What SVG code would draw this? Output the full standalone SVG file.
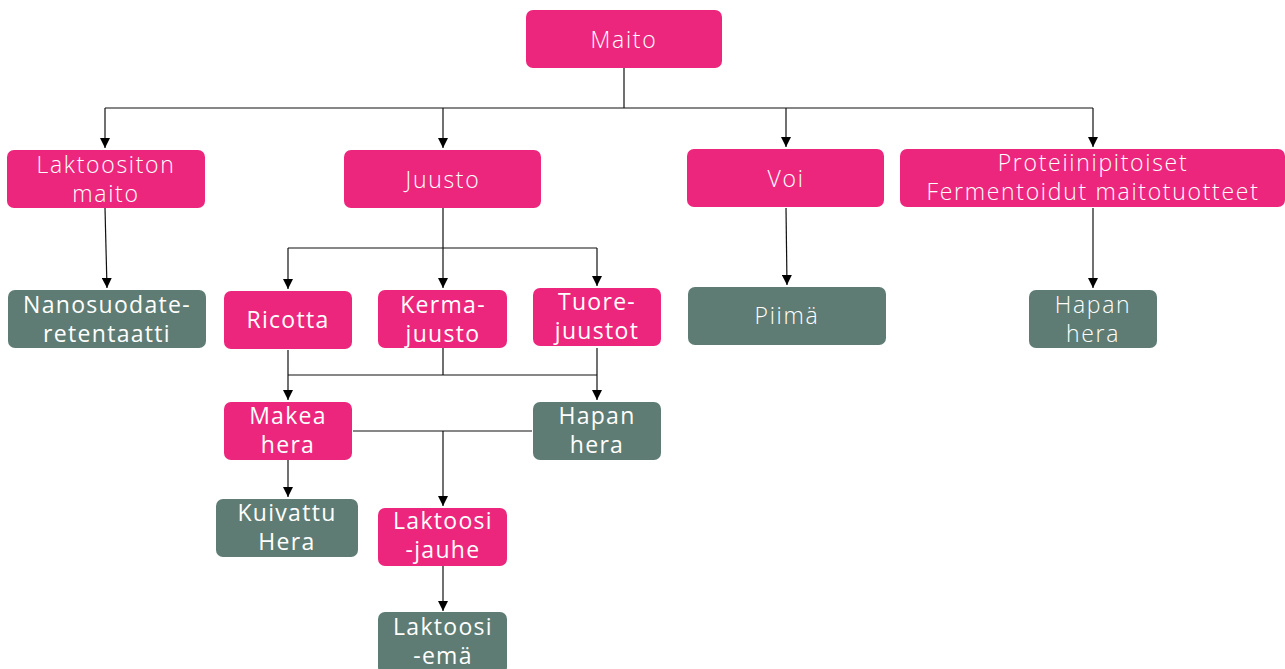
<svg xmlns="http://www.w3.org/2000/svg" width="1285" height="669" viewBox="0 0 1285 669">
<style>
.p{fill:#ED267D}
.g{fill:#5E7C73}
.t{fill:#fff;font-family:"Open Sans","Noto Sans",sans-serif;font-weight:300;font-size:23px;letter-spacing:1.7px;text-anchor:middle;dominant-baseline:central}
.m{fill:#fff;font-family:"Open Sans","Noto Sans",sans-serif;font-weight:400;font-size:23px;letter-spacing:1.3px;text-anchor:middle;dominant-baseline:central}
.c{fill:none;stroke:#111;stroke-width:1.2}
</style>
<defs>
<marker id="a" viewBox="0 0 10 10" refX="10" refY="5" markerWidth="10" markerHeight="10" markerUnits="userSpaceOnUse" orient="auto">
<path d="M0,0 L10,5 L0,10 z" fill="#000"/>
</marker>
</defs>
<rect width="1285" height="669" fill="#fff"/>
<g id="connectors">
<path class="c" d="M624,68 V108 M105,108 H1093"/>
<path class="c" d="M105,108 V148" marker-end="url(#a)"/>
<path class="c" d="M443,108 V148" marker-end="url(#a)"/>
<path class="c" d="M786,108 V147" marker-end="url(#a)"/>
<path class="c" d="M1093,108 V147" marker-end="url(#a)"/>
<path class="c" d="M105,208 L107,288" marker-end="url(#a)"/>
<path class="c" d="M443,208 V248 M288,248 H597"/>
<path class="c" d="M288,248 V289" marker-end="url(#a)"/>
<path class="c" d="M443,248 V288" marker-end="url(#a)"/>
<path class="c" d="M597,248 V286" marker-end="url(#a)"/>
<path class="c" d="M288,350 V375 M443,348 V375 M288,375 H597"/>
<path class="c" d="M288,375 V400" marker-end="url(#a)"/>
<path class="c" d="M597,348 V400" marker-end="url(#a)"/>
<path class="c" d="M353,431 H532"/>
<path class="c" d="M443,431 V506" marker-end="url(#a)"/>
<path class="c" d="M288,460 V497" marker-end="url(#a)"/>
<path class="c" d="M443,566 V611" marker-end="url(#a)"/>
<path class="c" d="M786,208 L787,285" marker-end="url(#a)"/>
<path class="c" d="M1093,208 V288" marker-end="url(#a)"/>
</g>
<g id="maito"><rect class="p" x="526" y="10" width="196" height="58" rx="7"/><text class="t" x="624" y="39">Maito</text></g>
<g id="laktoositon"><rect class="p" x="7" y="150" width="198" height="58" rx="7"/><text class="t" x="106" y="164">Laktoositon</text><text class="t" x="106" y="193">maito</text></g>
<g id="juusto"><rect class="p" x="344" y="150" width="197" height="58" rx="7"/><text class="t" x="443" y="179">Juusto</text></g>
<g id="voi"><rect class="p" x="687" y="149" width="197" height="58" rx="7"/><text class="t" x="786" y="178">Voi</text></g>
<g id="proteiini"><rect class="p" x="900" y="149" width="385" height="58" rx="7"/><text class="t" x="1093" y="162">Proteiinipitoiset</text><text class="t" x="1093" y="191">Fermentoidut maitotuotteet</text></g>
<g id="nanosuodate"><rect class="g" x="8" y="290" width="198" height="58" rx="7"/><text class="m" x="107" y="304">Nanosuodate-</text><text class="m" x="107" y="333">retentaatti</text></g>
<g id="ricotta"><rect class="p" x="224" y="291" width="128" height="58" rx="7"/><text class="m" x="288" y="319">Ricotta</text></g>
<g id="kermajuusto"><rect class="p" x="378" y="290" width="129" height="58" rx="7"/><text class="m" x="443" y="304">Kerma-</text><text class="m" x="443" y="333">juusto</text></g>
<g id="tuorejuustot"><rect class="p" x="533" y="288" width="128" height="58" rx="7"/><text class="m" x="597" y="301">Tuore-</text><text class="m" x="597" y="330">juustot</text></g>
<g id="makeahera"><rect class="p" x="224" y="402" width="128" height="58" rx="7"/><text class="m" x="288" y="415">Makea</text><text class="m" x="288" y="444">hera</text></g>
<g id="hapanhera1"><rect class="g" x="533" y="402" width="128" height="58" rx="7"/><text class="m" x="597" y="415">Hapan</text><text class="m" x="597" y="444">hera</text></g>
<g id="kuivattuhera"><rect class="g" x="216" y="499" width="142" height="58" rx="7"/><text class="m" x="287" y="512">Kuivattu</text><text class="m" x="287" y="541">Hera</text></g>
<g id="laktoosijauhe"><rect class="p" x="378" y="508" width="129" height="58" rx="7"/><text class="m" x="443" y="520">Laktoosi</text><text class="m" x="443" y="549">-jauhe</text></g>
<g id="laktoosiema"><rect class="g" x="378" y="612" width="129" height="62" rx="7"/><text class="m" x="443" y="626">Laktoosi</text><text class="m" x="443" y="655">-emä</text></g>
<g id="piima"><rect class="g" x="688" y="287" width="198" height="58" rx="7"/><text class="t" x="787" y="315">Piimä</text></g>
<g id="hapanhera2"><rect class="g" x="1029" y="290" width="128" height="58" rx="7"/><text class="t" x="1093" y="304">Hapan</text><text class="t" x="1093" y="333">hera</text></g>
</svg>
